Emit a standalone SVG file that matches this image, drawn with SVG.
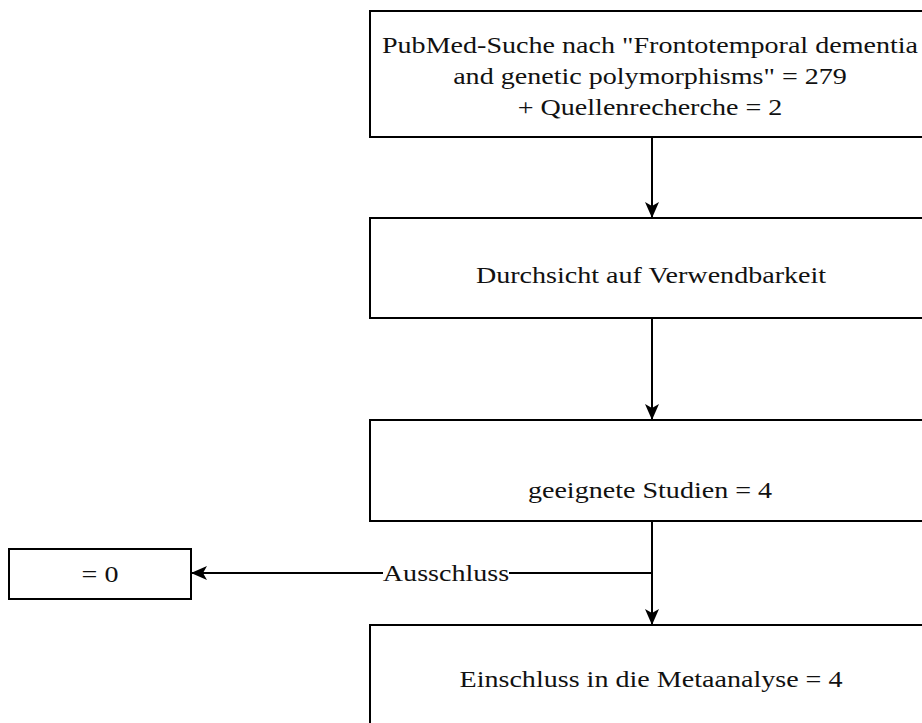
<svg xmlns="http://www.w3.org/2000/svg" width="922" height="723" viewBox="0 0 922 723">
  <style>
    .box { fill: #ffffff; stroke: #000000; stroke-width: 2; }
    .lbl { font-family: "Liberation Serif", "Times New Roman", serif; font-size: 24px; fill: #111111; text-anchor: middle; }
    .edge { fill: none; stroke: #000000; stroke-width: 2; }
  </style>
  <defs>
    <marker id="arrow" viewBox="0 0 16 16" refX="15" refY="8" markerWidth="16" markerHeight="16" markerUnits="userSpaceOnUse" orient="auto">
      <path d="M0,1 L16,8 L0,15 L4,8 Z" fill="#000000"/>
    </marker>
  </defs>
  <rect width="922" height="723" fill="#ffffff"/>

  <g id="connectors">
    <path class="edge" d="M652,137 V217" marker-end="url(#arrow)"/>
    <path class="edge" d="M652,318 V419" marker-end="url(#arrow)"/>
    <path class="edge" d="M652,521 V624" marker-end="url(#arrow)"/>
    <path class="edge" d="M652,573 H192" marker-end="url(#arrow)"/>
    <rect x="383" y="561" width="126" height="24" fill="#ffffff"/>
    <text class="lbl" transform="matrix(1.17,0,0,1,446,581)">Ausschluss</text>
  </g>

  <g id="search">
    <rect class="box" x="370" y="11" width="566" height="126"/>
    <text class="lbl" transform="matrix(1.17,0,0,1,650,53)">PubMed-Suche nach "Frontotemporal dementia</text>
    <text class="lbl" transform="matrix(1.17,0,0,1,650,84)">and genetic polymorphisms" = 279</text>
    <text class="lbl" transform="matrix(1.17,0,0,1,650,115)">+ Quellenrecherche = 2</text>
  </g>

  <g id="review">
    <rect class="box" x="370" y="218" width="566" height="100"/>
    <text class="lbl" transform="matrix(1.17,0,0,1,651,283)">Durchsicht auf Verwendbarkeit</text>
  </g>

  <g id="suitable">
    <rect class="box" x="370" y="420" width="566" height="101"/>
    <text class="lbl" transform="matrix(1.17,0,0,1,650,498)">geeignete Studien = 4</text>
  </g>

  <g id="excluded">
    <rect class="box" x="9" y="549" width="182" height="50"/>
    <text class="lbl" transform="matrix(1.17,0,0,1,100,582)">= 0</text>
  </g>

  <g id="included">
    <rect class="box" x="370" y="625" width="566" height="110"/>
    <text class="lbl" transform="matrix(1.17,0,0,1,651,687)">Einschluss in die Metaanalyse = 4</text>
  </g>
</svg>
